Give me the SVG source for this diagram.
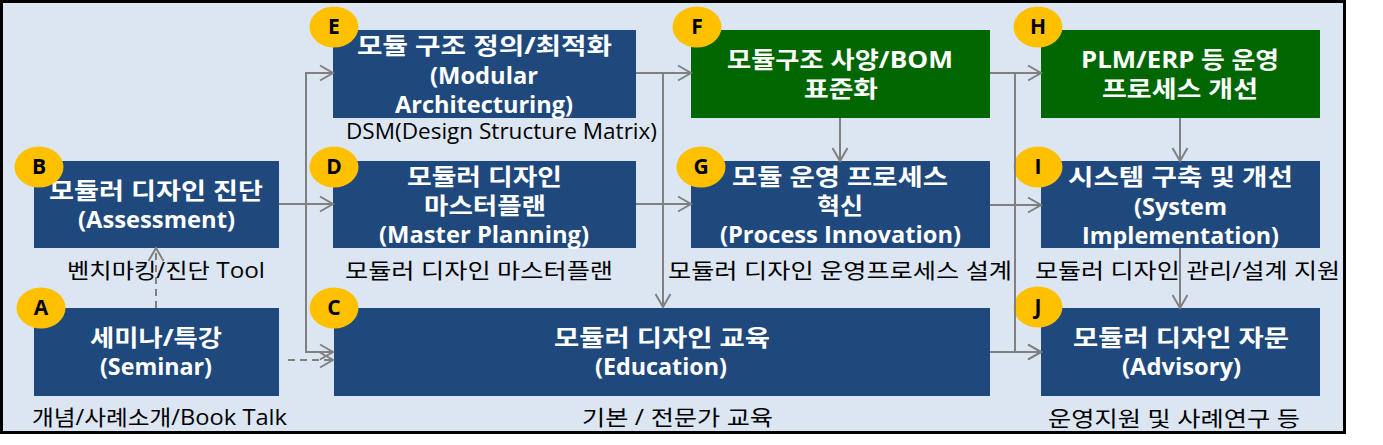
<svg xmlns="http://www.w3.org/2000/svg" width="1383" height="445" viewBox="0 0 1383 445">
<defs>
<style>
.bx{fill:#1F497D}
.gr{fill:#006600}
.t{font-family:"Open Sans","Noto Sans CJK KR",sans-serif;font-weight:bold;font-size:23px;fill:#fff;text-anchor:middle}
.l{font-family:"Open Sans","Noto Sans CJK KR",sans-serif;font-size:21px;fill:#000;text-anchor:middle}
.c{fill:#FFC000}
.ct{font-family:"Open Sans","Noto Sans CJK KR",sans-serif;font-weight:bold;font-size:21px;fill:#000;text-anchor:middle}
.cn{fill:none;stroke:#808080;stroke-width:2;marker-end:url(#arr)}
.ds{stroke-dasharray:7,5}
</style>
<marker id="arr" markerUnits="userSpaceOnUse" markerWidth="16" markerHeight="18" viewBox="0 0 16 18" refX="14" refY="9" orient="auto">
<path d="M1,1.5 L14,9 L1,16.5" fill="none" stroke="#808080" stroke-width="2"/>
</marker>
</defs>
<rect x="0" y="0" width="1383" height="445" fill="#fff"/>
<rect x="1.5" y="1.5" width="1343" height="431" fill="#DCE6F2" stroke="#000" stroke-width="3"/>

<g id="nodeA">
<rect class="bx" x="34" y="308" width="245" height="88"/>
<text class="t" x="156" y="346" textLength="132" lengthAdjust="spacingAndGlyphs">세미나/특강</text>
<text class="t" x="156" y="375" textLength="112" lengthAdjust="spacingAndGlyphs">(Seminar)</text>
<text class="l" x="159.5" y="425" textLength="255" lengthAdjust="spacingAndGlyphs">개념/사례소개/Book Talk</text>
<ellipse class="c" cx="41" cy="308" rx="24.5" ry="20.5"/>
<text class="ct" x="41" y="315">A</text>
</g>

<g id="nodeB">
<rect class="bx" x="34" y="161" width="245" height="87"/>
<text class="t" x="156" y="199" textLength="214" lengthAdjust="spacingAndGlyphs">모듈러 디자인 진단</text>
<text class="t" x="156.5" y="228" textLength="157" lengthAdjust="spacingAndGlyphs">(Assessment)</text>
<text class="l" x="166" y="278" textLength="198" lengthAdjust="spacingAndGlyphs">벤치마킹/진단 Tool</text>
<ellipse class="c" cx="39" cy="167" rx="24.5" ry="20.5"/>
<text class="ct" x="39" y="174">B</text>
</g>

<g id="nodeC">
<rect class="bx" x="334" y="308" width="656" height="88"/>
<text class="t" x="662" y="346" textLength="216" lengthAdjust="spacingAndGlyphs">모듈러 디자인 교육</text>
<text class="t" x="661" y="375" textLength="132" lengthAdjust="spacingAndGlyphs">(Education)</text>
<text class="l" x="677.5" y="425" textLength="191" lengthAdjust="spacingAndGlyphs">기본 / 전문가 교육</text>
<ellipse class="c" cx="334" cy="308" rx="24.5" ry="20.5"/>
<text class="ct" x="334" y="315">C</text>
</g>

<g id="nodeD">
<rect class="bx" x="333" y="161" width="303" height="87"/>
<text class="t" x="484.5" y="185" textLength="155" lengthAdjust="spacingAndGlyphs">모듈러 디자인</text>
<text class="t" x="485" y="214" textLength="122" lengthAdjust="spacingAndGlyphs">마스터플랜</text>
<text class="t" x="484" y="243" textLength="210" lengthAdjust="spacingAndGlyphs">(Master Planning)</text>
<text class="l" x="479" y="278" textLength="268" lengthAdjust="spacingAndGlyphs">모듈러 디자인 마스터플랜</text>
<ellipse class="c" cx="334" cy="167" rx="24.5" ry="20.5"/>
<text class="ct" x="334" y="174">D</text>
</g>

<g id="nodeE">
<rect class="bx" x="333" y="30" width="303" height="88"/>
<text class="t" x="484.5" y="54" textLength="255" lengthAdjust="spacingAndGlyphs">모듈 구조 정의/최적화</text>
<text class="t" x="484" y="84" textLength="108" lengthAdjust="spacingAndGlyphs">(Modular</text>
<text class="t" x="484" y="113" textLength="178" lengthAdjust="spacingAndGlyphs">Architecturing)</text>
<text class="l" x="501.5" y="139" textLength="311" lengthAdjust="spacingAndGlyphs">DSM(Design Structure Matrix)</text>
<ellipse class="c" cx="334" cy="27" rx="24.5" ry="20.5"/>
<text class="ct" x="334" y="34">E</text>
</g>

<g id="nodeF">
<rect class="gr" x="691" y="30" width="299" height="88"/>
<text class="t" x="840" y="68" textLength="226" lengthAdjust="spacingAndGlyphs">모듈구조 사양/BOM</text>
<text class="t" x="841" y="97" textLength="74" lengthAdjust="spacingAndGlyphs">표준화</text>
<ellipse class="c" cx="697" cy="27" rx="24.5" ry="20.5"/>
<text class="ct" x="697" y="34">F</text>
</g>

<g id="nodeG">
<rect class="bx" x="691" y="161" width="299" height="87"/>
<text class="t" x="840" y="185" textLength="216" lengthAdjust="spacingAndGlyphs">모듈 운영 프로세스</text>
<text class="t" x="840" y="214" textLength="46" lengthAdjust="spacingAndGlyphs">혁신</text>
<text class="t" x="840.5" y="243" textLength="241" lengthAdjust="spacingAndGlyphs">(Process Innovation)</text>
<text class="l" x="840" y="278" textLength="344" lengthAdjust="spacingAndGlyphs">모듈러 디자인 운영프로세스 설계</text>
<ellipse class="c" cx="701" cy="167" rx="24.5" ry="20.5"/>
<text class="ct" x="701" y="174">G</text>
</g>

<g id="nodeH">
<rect class="gr" x="1041" y="30" width="279" height="88"/>
<text class="t" x="1180" y="68" textLength="198" lengthAdjust="spacingAndGlyphs">PLM/ERP 등 운영</text>
<text class="t" x="1180" y="97" textLength="156" lengthAdjust="spacingAndGlyphs">프로세스 개선</text>
<ellipse class="c" cx="1038" cy="27" rx="24.5" ry="20.5"/>
<text class="ct" x="1038" y="34">H</text>
</g>

<g id="nodeI">
<rect class="bx" x="1041" y="161" width="279" height="87"/>
<text class="t" x="1180.5" y="185" textLength="225" lengthAdjust="spacingAndGlyphs">시스템 구축 및 개선</text>
<text class="t" x="1180.5" y="215" textLength="93" lengthAdjust="spacingAndGlyphs">(System</text>
<text class="t" x="1180.5" y="244" textLength="197" lengthAdjust="spacingAndGlyphs">Implementation)</text>
<ellipse class="c" cx="1038" cy="167" rx="24.5" ry="20.5"/>
<text class="ct" x="1038" y="174">I</text>
</g>

<g id="nodeJ">
<rect class="bx" x="1041" y="308" width="279" height="88"/>
<text class="t" x="1181" y="346" textLength="216" lengthAdjust="spacingAndGlyphs">모듈러 디자인 자문</text>
<text class="t" x="1181.5" y="375" textLength="119" lengthAdjust="spacingAndGlyphs">(Advisory)</text>
<text class="l" x="1174" y="426" textLength="252" lengthAdjust="spacingAndGlyphs">운영지원 및 사례연구 등</text>
<ellipse class="c" cx="1038" cy="307" rx="24.5" ry="20.5"/>
<text class="ct" x="1038" y="314">J</text>
</g>

<g id="connectors">
<path class="cn" d="M279,204 H333"/>
<path class="cn" d="M306,204 V73 H333"/>
<path class="cn" d="M306,204 V352 H333"/>
<path class="cn ds" d="M288,360 H333"/>
<path class="cn ds" d="M156,308 V248"/>
<path class="cn" d="M636,73 H691"/>
<path class="cn" d="M663,73 V307"/>
<path class="cn" d="M636,204 H691"/>
<path class="cn" d="M840,118 V161"/>
<path class="cn" d="M990,73 H1041"/>
<path class="cn" d="M1015,73 V352 H1041"/>
<path class="cn" d="M990,205 H1041"/>
<path class="cn" d="M990,352 H1041"/>
<path class="cn" d="M1180,118 V161"/>
<path class="cn" d="M1180,248 V308"/>
</g>

<text class="l" x="1187.5" y="278" textLength="305" lengthAdjust="spacingAndGlyphs">모듈러 디자인 관리/설계 지원</text>
</svg>
